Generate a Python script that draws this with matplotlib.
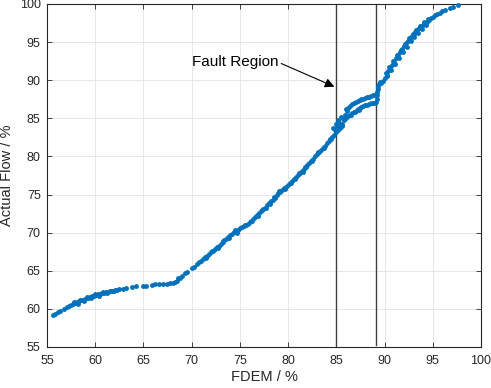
import matplotlib
matplotlib.use("Agg")
import matplotlib.pyplot as plt

plt.rcParams['font.family'] = ['Liberation Sans', 'DejaVu Sans']

# lower section of the curve (55-68)
x_low = [55.6, 55.8, 56.1, 56.4, 56.8, 57.1, 57.3, 57.5, 57.7, 57.9, 58.1, 58.3, 58.5,
         58.7, 58.9, 59.1, 59.3, 59.5, 59.7, 59.9, 60.1, 60.3, 60.5, 60.7, 60.9, 61.1,
         61.3, 61.5, 61.7, 61.9, 62.1, 62.3, 62.5,
         57.8, 58.2, 58.4, 58.8, 59.2, 59.6, 60.0, 60.4, 60.8, 61.2, 61.6,
         62.9, 63.2, 63.8, 64.2, 65.0, 65.3, 65.9, 66.2, 66.6, 67.0, 67.4, 67.8, 68.1]
y_low = [59.25, 59.35, 59.55, 59.75, 60.0, 60.25, 60.4, 60.55, 60.65, 60.8, 60.9, 61.0, 61.1,
         61.2, 61.3, 61.4, 61.45, 61.55, 61.65, 61.75, 61.8, 61.9, 61.95, 62.05, 62.1, 62.2,
         62.25, 62.3, 62.35, 62.4, 62.45, 62.5, 62.55,
         60.95, 60.7, 61.2, 61.0, 61.6, 61.4, 61.95, 61.75, 62.2, 62.05, 62.4,
         62.65, 62.75, 62.9, 62.95, 63.0, 63.05, 63.15, 63.2, 63.2, 63.25, 63.3, 63.35, 63.4]

# middle section (68-85)
x_mid = [68.3, 68.5, 68.6, 68.8, 69.0, 69.3, 69.5, 70.0, 70.2, 70.6, 70.8, 71.0, 71.2, 71.4,
         71.6, 71.8, 72.0, 72.2, 72.4, 72.6, 72.8, 73.0, 73.2, 73.4, 73.6, 73.8, 74.0, 74.2,
         74.4, 74.6, 74.8,
         71.5, 72.1, 72.7, 73.3, 73.9, 74.5, 74.7,
         75.0, 75.2, 75.4, 75.6, 75.8, 76.0, 76.2, 76.4, 76.6, 76.8, 77.0, 77.2, 77.4, 77.6,
         77.8, 78.0, 78.2, 78.4, 78.6, 78.8, 79.0, 79.2, 79.4, 79.6, 79.8, 80.0, 80.2, 80.4,
         80.6, 80.8, 81.0, 81.2, 81.4, 81.6, 81.8, 82.0, 82.2, 82.4, 82.6, 82.8, 83.0, 83.2,
         83.4, 83.6, 83.8, 84.0, 84.2, 84.4, 84.6, 84.8,
         75.5, 76.3, 76.9, 77.3, 77.7, 78.1, 78.5, 79.1, 79.7, 80.3, 80.7, 81.1, 81.5, 81.9,
         82.5, 83.1, 83.7, 84.3]
y_mid = [63.5, 63.7, 64.0, 64.1, 64.3, 64.7, 64.9, 65.4, 65.55, 65.95, 66.1, 66.3, 66.55, 66.75,
         67.0, 67.2, 67.4, 67.65, 67.85, 68.1, 68.3, 68.55, 68.75, 69.0, 69.2, 69.45, 69.65, 69.85,
         70.05, 70.25, 70.4,
         66.7, 67.6, 67.95, 68.95, 69.3, 70.3, 69.95,
         70.55, 70.7, 70.85, 71.0, 71.2, 71.35, 71.55, 71.8, 72.0, 72.3, 72.55, 72.8, 73.05, 73.3,
         73.6, 73.85, 74.1, 74.35, 74.6, 74.9, 75.15, 75.35, 75.6, 75.8, 76.05, 76.25, 76.5, 76.75,
         77.05, 77.3, 77.55, 77.8, 78.05, 78.35, 78.6, 78.9, 79.15, 79.45, 79.7, 80.0, 80.3, 80.55,
         80.85, 81.15, 81.4, 81.7, 82.0, 82.25, 82.55, 82.85,
         71.05, 71.5, 72.25, 73.0, 73.25, 73.8, 74.65, 75.4, 75.75, 76.5, 77.0, 77.8, 77.95, 78.6,
         79.4, 80.6, 81.1, 82.3]

# fault region (85-89.2): two branches plus scatter
x_fault = [85.0, 85.2, 85.4, 85.6, 85.8, 86.0, 86.2, 86.4, 86.6, 86.8, 87.0, 87.2, 87.4, 87.6,
           87.8, 88.0, 88.2, 88.4, 88.6, 88.8, 89.0,
           86.2, 86.4, 86.6, 86.8, 87.0, 87.2, 87.4, 87.6, 87.8, 88.0, 88.2, 88.4, 88.6, 88.8, 89.0,
           84.7, 84.9, 85.1, 85.3, 85.5, 85.4, 85.7, 85.9, 86.1, 86.0, 85.2, 85.6, 84.95,
           86.5, 86.9, 87.3]
y_fault = [83.15, 83.5, 83.9, 84.3, 84.75, 85.05, 85.3, 85.5, 85.7, 85.85, 86.0, 86.2, 86.35, 86.5,
           86.6, 86.7, 86.8, 86.9, 86.95, 87.0, 87.05,
           86.3, 86.65, 86.9, 87.05, 87.2, 87.3, 87.4, 87.5, 87.6, 87.7, 87.8, 87.85, 87.95, 88.0, 88.1,
           83.7, 83.5, 84.0, 84.4, 85.2, 83.7, 84.9, 85.5, 85.9, 86.2, 84.8, 84.0, 84.3,
           85.45, 85.8, 86.15]

# upper section (89.2-98)
x_high = [89.15, 89.2, 89.2, 89.25, 89.3, 89.35, 89.4, 89.5,
          89.6, 89.8, 90.0, 90.2, 90.4, 90.6, 90.8, 91.0, 91.2, 91.4, 91.6, 91.8, 92.0, 92.2,
          92.4, 92.6, 92.8, 93.0, 93.2, 93.4, 93.6, 93.8, 94.0, 94.2, 94.4, 94.6, 94.8, 95.0,
          95.2, 95.4,
          90.1, 90.5, 90.9, 91.3, 91.7, 92.1, 92.5, 92.9, 93.3, 93.7, 94.1, 94.5,
          90.3, 90.7, 91.1, 91.5, 91.9, 92.3, 92.7, 93.1, 93.5, 93.9, 94.3,
          95.7, 96.0, 96.3, 96.8, 97.1, 97.6]
y_high = [87.2, 87.6, 88.0, 88.4, 88.8, 89.2, 89.5, 89.8,
          89.6, 89.95, 90.35, 90.75, 91.15, 91.55, 91.95, 92.4, 92.85, 93.3, 93.7, 94.1, 94.5, 94.85,
          95.2, 95.5, 95.8, 96.1, 96.35, 96.6, 96.8, 97.0, 97.25, 97.5, 97.7, 97.9, 98.1, 98.3,
          98.5, 98.65,
          90.9, 91.7, 92.5, 93.3, 94.0, 94.8, 95.5, 96.1, 96.6, 97.1, 97.6, 98.0,
          90.6, 91.3, 92.1, 92.9, 93.7, 94.4, 95.1, 95.7, 96.2, 96.7, 97.2,
          98.85, 99.05, 99.25, 99.5, 99.65, 99.9]

fault_bounds = [85.0, 89.15]
ticks = [55, 60, 65, 70, 75, 80, 85, 90, 95, 100]

fig = plt.figure(figsize=(4.91, 3.88), dpi=100)
ax = fig.add_axes([0.0957, 0.1057, 0.884, 0.8840])

for xs, ys in [(x_low, y_low), (x_mid, y_mid), (x_fault, y_fault), (x_high, y_high)]:
    ax.plot(xs, ys, 'o', ms=3.5, mew=0, color='#0072BD', clip_on=False, zorder=3)

ax.plot([fault_bounds[0]] * 2, [55, 100], color='#404040', lw=1.0, zorder=2)
ax.plot([fault_bounds[1]] * 2, [55.3, 100], color='#404040', lw=1.0, zorder=2)

ax.annotate('Fault Region', xy=(84.8, 89.15), xytext=(79.0, 92.35),
            ha='right', va='center', fontsize=11, color='black',
            arrowprops=dict(arrowstyle='-|>', color='black', lw=0.8,
                            shrinkA=0, shrinkB=0, mutation_scale=14, relpos=(1, 0.5)))

ax.set_xlim(55, 100)
ax.set_ylim(55, 100)
ax.set_xticks(ticks)
ax.set_yticks(ticks)
ax.grid(True, color='#e3e3e3', lw=0.6)
ax.set_axisbelow(True)
for s in ax.spines.values():
    s.set_color('#262626')
    s.set_linewidth(0.8)
ax.tick_params(direction='in', top=True, right=True, length=3.5, width=0.6,
               colors='#262626', labelsize=9)
ax.tick_params(axis='x', pad=6)
ax.tick_params(axis='y', pad=4.5)
ax.set_xlabel('FDEM / %', fontsize=10.5, color='#262626', labelpad=2)
ax.set_ylabel('Actual Flow / %', fontsize=10.5, color='#262626', labelpad=4)

fig.savefig('out.png', dpi=100)
